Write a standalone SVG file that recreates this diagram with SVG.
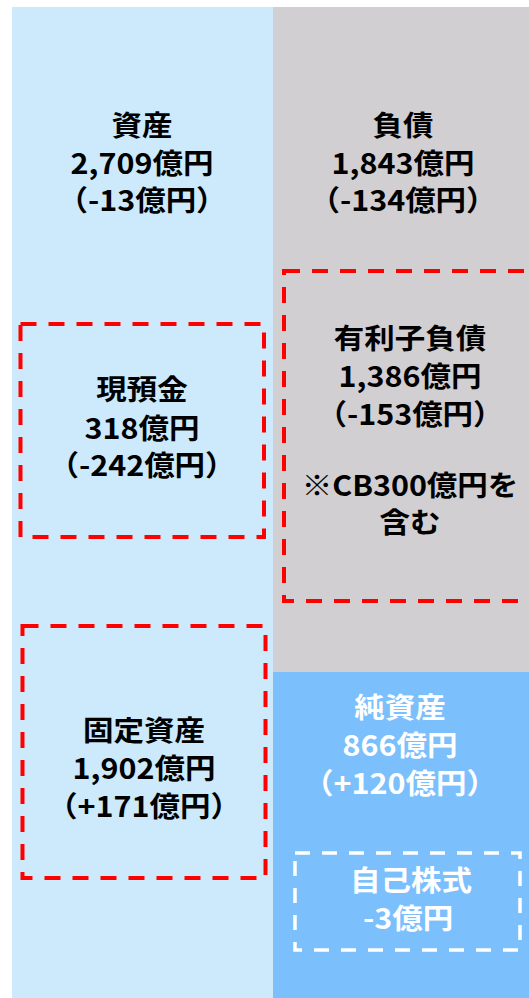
<svg xmlns="http://www.w3.org/2000/svg" width="529" height="998" viewBox="0 0 529 998">
<style>
.t{font-family:"Noto Sans CJK JP","Noto Sans",sans-serif;font-weight:bold;font-size:28.5px;text-anchor:middle}
.k{fill:#000}
.w{fill:#fff}
.red{fill:none;stroke:#ff0000;stroke-width:4;stroke-dasharray:16 12}
.wh{fill:none;stroke:#fff;stroke-width:3.5;stroke-dasharray:15 12}
</style>
<rect width="529" height="998" fill="#fff"/>
<g id="assets">
<rect x="12" y="7" width="261" height="991" fill="#cceafc"/>
<text class="t k" transform="translate(142 136) scale(1.07 1)">資産</text>
<text class="t k" transform="translate(142 173.5) scale(1.07 1)">2,709億円</text>
<text class="t k" transform="translate(142 211) scale(1.07 1)">（-13億円）</text>
</g>
<g id="liabilities">
<rect x="273" y="7" width="256" height="665" fill="#d1cfd1"/>
<text class="t k" transform="translate(403 136) scale(1.07 1)">負債</text>
<text class="t k" transform="translate(403 173.5) scale(1.07 1)">1,843億円</text>
<text class="t k" transform="translate(403 211) scale(1.07 1)">（-134億円）</text>
</g>
<g id="net-assets">
<rect x="273" y="672" width="256" height="326" fill="#7bbffc"/>
<text class="t w" transform="translate(400 718) scale(1.07 1)">純資産</text>
<text class="t w" transform="translate(400 756) scale(1.07 1)">866億円</text>
<text class="t w" transform="translate(400 794) scale(1.07 1)">（+120億円）</text>
</g>
<g id="cash">
<rect class="red" x="20.5" y="324" width="243.5" height="213"/>
<text class="t k" transform="translate(142 400) scale(1.07 1)">現預金</text>
<text class="t k" transform="translate(142 438.5) scale(1.07 1)">318億円</text>
<text class="t k" transform="translate(142 476) scale(1.07 1)">（-242億円）</text>
</g>
<g id="interest-bearing-debt">
<rect class="red" x="284" y="271" width="260" height="330"/>
<text class="t k" transform="translate(410 349) scale(1.07 1)">有利子負債</text>
<text class="t k" transform="translate(410 387) scale(1.07 1)">1,386億円</text>
<text class="t k" transform="translate(410 424.5) scale(1.07 1)">（-153億円）</text>
<text class="t k" transform="translate(410 495.5) scale(1.07 1)">※CB300億円を</text>
<text class="t k" transform="translate(410 533) scale(1.07 1)">含む</text>
</g>
<g id="fixed-assets">
<rect class="red" x="22.5" y="626" width="243" height="252"/>
<text class="t k" transform="translate(144 741) scale(1.07 1)">固定資産</text>
<text class="t k" transform="translate(144 779) scale(1.07 1)">1,902億円</text>
<text class="t k" transform="translate(144 817) scale(1.07 1)">（+171億円）</text>
</g>
<g id="treasury-stock">
<rect class="wh" x="295" y="853" width="225" height="97"/>
<text class="t w" transform="translate(411 891) scale(1.07 1)">自己株式</text>
<text class="t w" transform="translate(408 929) scale(1.07 1)">-3億円</text>
</g>
<g id="connectors"/>
</svg>
